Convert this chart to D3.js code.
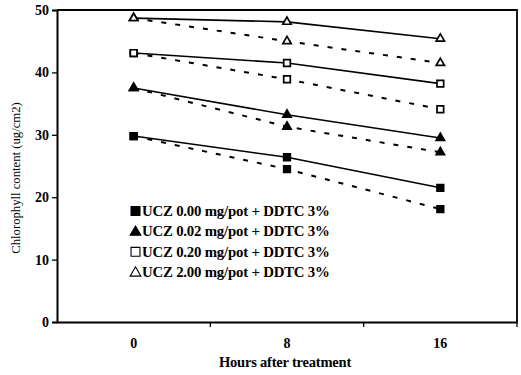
<!DOCTYPE html>
<html>
<head>
<meta charset="utf-8">
<script src="https://cdn.jsdelivr.net/npm/d3@7"></script>
<style>
  body { margin: 0; background: #fff; }
  svg text { font-family: "Liberation Serif", "Times New Roman", serif; fill: #000; }
</style>
</head>
<body>
<div id="graph"></div>
<script>

    const hours = ["0", "8", "16"];
    const yTicks = [0, 10, 20, 30, 40, 50];

    const legendLabels = [
        "UCZ 0.00 mg/pot + DDTC 3%",
        "UCZ 0.02 mg/pot + DDTC 3%",
        "UCZ 0.20 mg/pot + DDTC 3%",
        "UCZ 2.00 mg/pot + DDTC 3%"
    ];

    // solid lines
    const ucz000 = [29.8, 26.4, 21.5];
    const ucz002 = [37.5, 33.2, 29.5];
    const ucz020 = [43.1, 41.5, 38.2];
    const ucz200 = [48.7, 48.1, 45.4];

    // dashed lines
    const ucz000d = [29.8, 24.5, 18.1];
    const ucz002d = [37.5, 31.3, 27.2];
    const ucz020d = [43.1, 38.9, 34.1];
    const ucz200d = [48.7, 45.0, 41.5];

    const series = [
        { values: ucz000, dash: false, shape: "square", fill: true },
        { values: ucz002, dash: false, shape: "triangle", fill: true },
        { values: ucz020, dash: false, shape: "square", fill: false },
        { values: ucz200, dash: false, shape: "triangle", fill: false },
        { values: ucz000d, dash: true, shape: "square", fill: true },
        { values: ucz002d, dash: true, shape: "triangle", fill: true },
        { values: ucz020d, dash: true, shape: "square", fill: false },
        { values: ucz200d, dash: true, shape: "triangle", fill: false }
    ];

    const w = 521;
    const h = 375;
    const padLeft = 57, padRight = 517, padTop = 10, padBottom = 322;

    const svg = d3.select('#graph')
        .append('svg')
        .attr('width', w)
        .attr('height', h);

    const xScale = d3.scaleBand()
        .domain(hours)
        .range([padLeft, padRight])
        .padding(0);

    const yScale = d3.scaleLinear()
        .domain([0, 50])
        .range([padBottom, padTop]);

    const cx = (d) => xScale(d) + xScale.bandwidth() / 2;

    // frame
    svg.append('path')
        .attr('d', `M${padLeft},${padTop}H${padRight}V${padBottom}`)
        .attr('fill', 'none')
        .attr('stroke', '#000')
        .attr('stroke-width', 1.8);

    // y axis
    const yAxis = d3.axisLeft(yScale)
        .tickValues(yTicks)
        .tickSize(5)
        .tickPadding(3);

    const gy = svg.append('g')
        .attr('transform', `translate(${padLeft},0)`)
        .call(yAxis);
    gy.select('.domain').attr('stroke-width', 2);
    gy.selectAll('.tick line').attr('stroke-width', 1.3);
    gy.selectAll('text')
        .style('font-size', '14px')
        .style('font-weight', 'bold')
        .style('font-family', '"Liberation Serif", serif');

    // x axis: labels centred in bands, ticks at band edges
    const xAxis = d3.axisBottom(xScale)
        .tickSize(0)
        .tickPadding(16);

    const gx = svg.append('g')
        .attr('transform', `translate(0,${padBottom})`)
        .call(xAxis);
    gx.select('.domain').attr('stroke-width', 2);
    gx.selectAll('text')
        .style('font-size', '14px')
        .style('font-weight', 'bold')
        .style('font-family', '"Liberation Serif", serif');

    gx.selectAll('.edge')
        .data(hours)
        .enter()
        .append('line')
        .attr('class', 'edge')
        .attr('x1', (d) => xScale(d) + xScale.bandwidth())
        .attr('x2', (d) => xScale(d) + xScale.bandwidth())
        .attr('y1', 0)
        .attr('y2', 5)
        .attr('stroke', '#000')
        .attr('stroke-width', 1.3);

    // axis titles
    svg.append('text')
        .attr('x', 285)
        .attr('y', 367)
        .attr('text-anchor', 'middle')
        .style('font-size', '14.5px')
        .style('font-weight', 'bold')
        .style('letter-spacing', '-0.2px')
        .text('Hours after treatment');

    svg.append('text')
        .attr('transform', 'translate(20,178) rotate(-90)')
        .attr('text-anchor', 'middle')
        .style('font-size', '12.7px')
        .text('Chlorophyll content (ug/cm2)');

    // lines
    const line = d3.line()
        .x((d, i) => cx(hours[i]))
        .y((d) => yScale(d));

    svg.selectAll('.series')
        .data(series)
        .enter()
        .append('path')
        .attr('class', 'series')
        .attr('d', (d) => line(d.values))
        .attr('fill', 'none')
        .attr('stroke', '#000')
        .attr('stroke-width', (d) => d.dash ? 2 : 1.6)
        .attr('stroke-dasharray', (d) => d.dash ? '5,9' : null);

    // markers
    const symbolOf = (s) => s === 'square' ? d3.symbolSquare : d3.symbolTriangle;

    series.forEach(function (s) {
        svg.selectAll(null)
            .data(s.values)
            .enter()
            .append('path')
            .attr('transform', (d, i) => `translate(${cx(hours[i])},${yScale(d)})`)
            .attr('d', d3.symbol().type(symbolOf(s.shape)).size(s.shape === 'square' ? 44 : 30))
            .attr('fill', s.fill ? '#000' : '#fff')
            .attr('stroke', '#000')
            .attr('stroke-width', 1.7);
    });

    // legend
    const legend = svg.selectAll('.legend')
        .data(legendLabels)
        .enter()
        .append('g')
        .attr('class', 'legend')
        .attr('transform', (d, i) => `translate(130,${211 + i * 20.4})`);

    legend.append('path')
        .attr('transform', (d, i) => `translate(5.5,${i % 2 === 0 ? 0 : 0.8})`)
        .attr('d', (d, i) => d3.symbol()
            .type(i % 2 === 0 ? d3.symbolSquare : d3.symbolTriangle)
            .size(i % 2 === 0 ? 80 : 50)())
        .attr('fill', (d, i) => i < 2 ? '#000' : '#fff')
        .attr('stroke', '#000')
        .attr('stroke-width', 1.1);

    legend.append('text')
        .attr('x', 12)
        .attr('y', 5)
        .style('font-size', '14.8px')
        .style('font-weight', 'bold')
        .style('letter-spacing', '-0.2px')
        .text((d) => d);

</script>
</body>
</html>
